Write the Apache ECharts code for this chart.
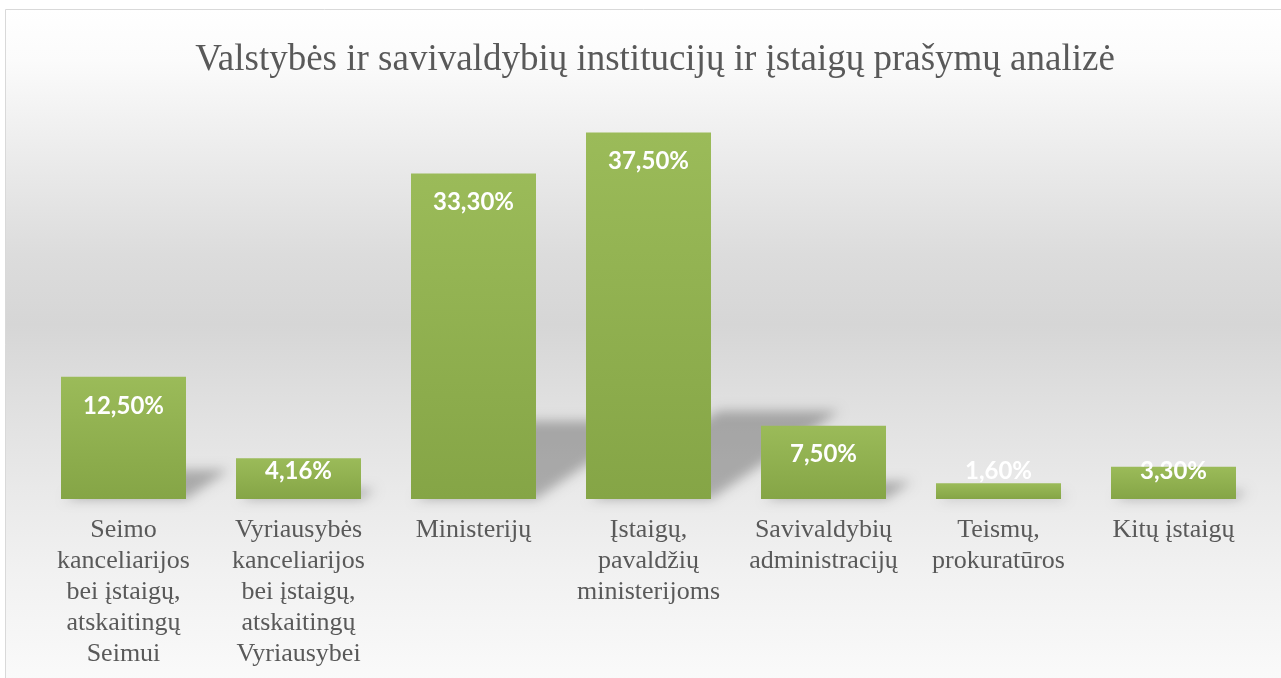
<!DOCTYPE html>
<html>
<head>
<meta charset="utf-8">
<script src="https://cdn.jsdelivr.net/npm/echarts@6/dist/echarts.min.js"></script>
<style>
  html, body { margin: 0; padding: 0; background: #fff; }
  #chart { width: 1281px; height: 678px; }
</style>
</head>
<body>
<div id="chart"></div>
<script>
const titleText = 'Valstybės ir savivaldybių institucijų ir įstaigų prašymų analizė'
const categories = [
  'Seimo\nkanceliarijos\nbei įstaigų,\natskaitingų\nSeimui',
  'Vyriausybės\nkanceliarijos\nbei įstaigų,\natskaitingų\nVyriausybei',
  'Ministerijų',
  'Įstaigų,\npavaldžių\nministerijoms',
  'Savivaldybių\nadministracijų',
  'Teismų,\nprokuratūros',
  'Kitų įstaigų'
]
const shares = [12.5, 4.16, 33.3, 37.5, 7.5, 1.6, 3.3]

const chart = echarts.init(document.getElementById('chart'))

// soft cast shadow behind each bar; the shape sits off-canvas and only its blurred shadow shows
const SHIFT = 3000
function renderShadow(params, api) {
  const i = api.value(0)
  const v = api.value(1)
  const base = api.coord([i, 0])
  const top = api.coord([i, v])
  const band = api.size([1, 0])[0]
  const w = band * 125 / 175
  const h = base[1] - top[1]
  const x0 = base[0] - w / 2 - SHIFT
  const dx = h * 0.35
  const dy = h * 0.24
  return {
    type: 'polygon',
    shape: {
      points: [
        [x0 + 4, base[1]],
        [x0 + w, base[1]],
        [x0 + w + dx, base[1] - dy],
        [x0 + dx + 4, base[1] - dy]
      ]
    },
    style: {
      fill: '#000',
      shadowBlur: 12,
      shadowOffsetX: SHIFT,
      shadowColor: 'rgba(0,0,0,0.27)'
    }
  }
}

chart.setOption({
  animation: false,
  graphic: [
    {
      type: 'rect',
      z: -10,
      shape: { x: 5.5, y: 9.5, width: 1300, height: 700 },
      style: {
        stroke: '#d9d9d9',
        lineWidth: 1,
        fill: {
          type: 'linear', x: 0, y: 0, x2: 0, y2: 1,
          colorStops: [
            { offset: 0, color: '#ffffff' },
            { offset: 0.074, color: '#fbfbfb' },
            { offset: 0.204, color: '#ececec' },
            { offset: 0.35, color: '#dcdcdc' },
            { offset: 0.45, color: '#d6d6d6' },
            { offset: 0.567, color: '#e0e0e0' },
            { offset: 0.683, color: '#e9e9e9' },
            { offset: 0.8, color: '#f1f1f1' },
            { offset: 0.943, color: '#f9f9f9' },
            { offset: 1, color: '#fbfbfb' }
          ]
        }
      }
    }
  ],
  title: {
    text: titleText,
    left: 650,
    top: 37,
    textAlign: 'center',
    textStyle: {
      fontFamily: 'Liberation Serif',
      fontSize: 37,
      fontWeight: 'normal',
      color: '#595959'
    }
  },
  grid: { left: 36, right: 20, top: 108, bottom: 179 },
  xAxis: {
    type: 'category',
    data: categories,
    axisLine: { show: false },
    axisTick: { show: false },
    axisLabel: {
      interval: 0,
      margin: 16,
      fontFamily: 'Liberation Serif',
      fontSize: 26,
      lineHeight: 31,
      color: '#595959'
    }
  },
  yAxis: {
    type: 'value',
    min: 0,
    max: 40,
    show: false,
    splitLine: { show: false }
  },
  series: [
    {
      type: 'custom',
      z: 1,
      renderItem: renderShadow,
      data: shares.map((v, i) => [i, v]),
      silent: true
    },
    {
      type: 'bar',
      z: 3,
      data: shares,
      barWidth: 125,
      itemStyle: {
        color: {
          type: 'linear', x: 0, y: 0, x2: 0, y2: 1,
          colorStops: [
            { offset: 0, color: '#9bbb59' },
            { offset: 1, color: '#85a546' }
          ]
        }
      },
      label: {
        show: true,
        formatter: p => p.value.toFixed(2).replace('.', ',') + '%',
        fontFamily: 'Lato',
        fontWeight: 'bold',
        fontSize: 24,
        color: '#ffffff'
      },
      labelLayout: function (p) {
        const base = p.rect.y + p.rect.height
        const cy = Math.min(p.rect.y + 29, base - 28)
        return {
          x: p.rect.x + p.rect.width / 2,
          y: cy,
          align: 'center',
          verticalAlign: 'middle'
        }
      }
    }
  ]
})
</script>
</body>
</html>
